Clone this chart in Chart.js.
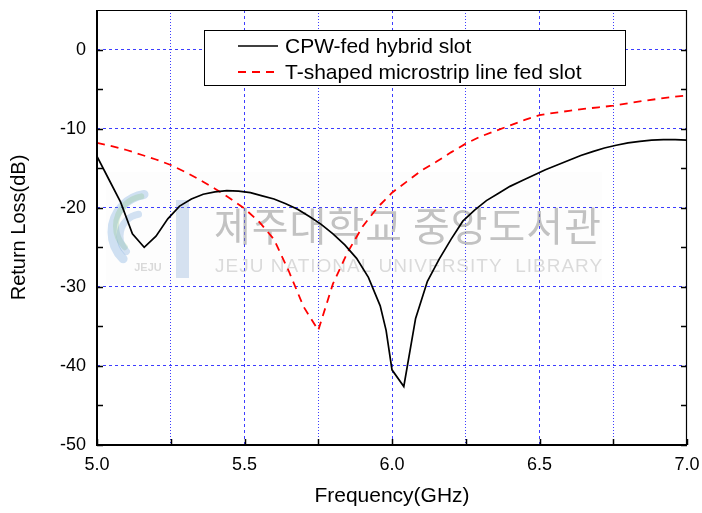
<!DOCTYPE html>
<html>
<head>
<meta charset="utf-8">
<script src="https://cdn.jsdelivr.net/npm/chart.js@4.4.1/dist/chart.umd.min.js"></script>
<style>
  html, body { margin: 0; padding: 0; background: #fff; }
  #wrap { width: 702px; height: 513px; }
</style>
</head>
<body>
<div id="wrap"><canvas id="rl" width="702" height="513"></canvas></div>
<script>
// CPW-fed hybrid slot, return loss (dB) vs frequency (GHz)
const cpwFreq = [5.00, 5.04, 5.08, 5.12, 5.16, 5.20, 5.24, 5.28, 5.32, 5.36, 5.40, 5.44, 5.48, 5.52, 5.56, 5.60,
  5.64, 5.68, 5.72, 5.76, 5.80, 5.84, 5.88, 5.92, 5.96, 5.98, 6.00, 6.04, 6.08, 6.12, 6.16, 6.20, 6.24, 6.28,
  6.32, 6.36, 6.40, 6.44, 6.48, 6.52, 6.56, 6.60, 6.64, 6.68, 6.72, 6.76, 6.80, 6.84, 6.88, 6.92, 6.96, 7.00];
const cpwLoss = [-13.5, -16.4, -19.3, -23.3, -25.0, -23.6, -21.4, -19.8, -18.9, -18.3, -18.0, -17.85, -17.9, -18.1, -18.5, -18.9,
  -19.5, -20.2, -21.1, -22.1, -23.3, -24.7, -26.4, -28.8, -32.4, -35.5, -40.5, -42.6, -34.0, -29.3, -26.5, -24.0, -21.7, -20.3,
  -19.1, -18.2, -17.3, -16.6, -15.9, -15.2, -14.6, -14.0, -13.4, -12.9, -12.45, -12.1, -11.8, -11.6, -11.45, -11.4, -11.4, -11.45];

// T-shaped microstrip line fed slot
const tslotFreq = [5.00, 5.05, 5.10, 5.15, 5.20, 5.25, 5.30, 5.35, 5.40, 5.45, 5.50, 5.55, 5.60, 5.65, 5.70, 5.75,
  5.80, 5.85, 5.90, 5.95, 6.00, 6.05, 6.10, 6.15, 6.20, 6.25, 6.30, 6.35, 6.40, 6.45, 6.50, 6.55, 6.60, 6.65,
  6.70, 6.75, 6.80, 6.85, 6.90, 6.95, 7.00];
const tslotLoss = [-11.8, -12.2, -12.7, -13.3, -13.9, -14.6, -15.5, -16.5, -17.6, -18.8, -20.1, -21.8, -24.0, -28.0, -32.5, -35.5,
  -29.6, -25.6, -22.4, -20.0, -18.1, -16.7, -15.3, -14.2, -13.0, -11.9, -11.0, -10.3, -9.6, -8.9, -8.3, -8.0, -7.75, -7.5,
  -7.3, -7.1, -6.8, -6.5, -6.25, -6.0, -5.8];

const seriesNames = ['CPW-fed hybrid slot', 'T-shaped microstrip line fed slot'];
const xLabels = [5.0, 5.5, 6.0, 6.5, 7.0];
const yLabels = [0, -10, -20, -30, -40, -50];

const FONT = '"Liberation Sans", Arial, Helvetica, sans-serif';
const GRID_BLUE = 'rgba(40, 40, 255, 0.9)';

const toPoints = (xs, ys) => xs.map((x, i) => ({ x: x, y: ys[i] }));
const isLabelX = v => xLabels.some(l => Math.abs(l - v) < 1e-6);
const isLabelY = v => yLabels.some(l => Math.abs(l - v) < 1e-6);

// faint library stamp behind the curves
const stampPlugin = {
  id: 'stamp',
  beforeDatasetsDraw(chart) {
    const ctx = chart.ctx;
    ctx.save();
    ctx.fillStyle = 'rgba(0,0,0,0.008)';
    ctx.fillRect(106, 172, 496, 112);

    // logo swirls
    ctx.lineCap = 'round';
    const arcs = [
      ['rgba(120,170,220,0.35)', 150, 232, 38, 9],
      ['rgba(150,200,150,0.35)', 146, 226, 30, 6],
      ['rgba(110,160,215,0.30)', 142, 236, 22, 7]
    ];
    arcs.forEach(([c, cx, cy, r, w]) => {
      ctx.strokeStyle = c;
      ctx.lineWidth = w;
      ctx.beginPath();
      ctx.arc(cx, cy, r, Math.PI * 0.75, Math.PI * 1.45);
      ctx.stroke();
    });
    ctx.fillStyle = 'rgba(120,160,210,0.3)';
    ctx.fillRect(176, 200, 13, 78);
    ctx.fillStyle = 'rgba(150,150,150,0.35)';
    ctx.font = 'bold 11px ' + FONT;
    ctx.textAlign = 'center';
    ctx.textBaseline = 'middle';
    ctx.fillText('JEJU', 148, 268);

    ctx.fillStyle = 'rgba(135,135,135,0.5)';
    ctx.font = '40px "Noto Sans CJK KR", sans-serif';
    ctx.textAlign = 'left';
    ctx.textBaseline = 'middle';
    if (ctx.letterSpacing !== undefined) ctx.letterSpacing = '1px';
    ctx.fillText('제주대학교 중앙도서관', 214, 226);
    ctx.fillStyle = 'rgba(160,160,160,0.38)';
    ctx.font = '19px ' + FONT;
    if (ctx.letterSpacing !== undefined) ctx.letterSpacing = '1px';
    ctx.fillText('JEJU NATIONAL UNIVERSITY  LIBRARY', 215, 267);
    ctx.restore();
  }
};

// axis box with inward ticks, plus the legend
const framePlugin = {
  id: 'frame',
  afterDatasetsDraw(chart) {
    const ctx = chart.ctx;
    const { left, right, top, bottom } = chart.chartArea;
    const xs = chart.scales.x, ys = chart.scales.y;
    ctx.save();
    ctx.strokeStyle = '#000';

    ctx.lineWidth = 1.5;
    xs.ticks.forEach(t => {
      const px = Math.round(xs.getPixelForValue(t.value)) + 0.5;
      ctx.beginPath(); ctx.moveTo(px, bottom); ctx.lineTo(px, bottom - 6); ctx.stroke();
    });
    ys.ticks.forEach(t => {
      const py = Math.round(ys.getPixelForValue(t.value)) + 0.5;
      if (py < top + 2) return;
      ctx.beginPath(); ctx.moveTo(left, py); ctx.lineTo(left + 6, py); ctx.stroke();
      ctx.beginPath(); ctx.moveTo(right, py); ctx.lineTo(right - 6, py); ctx.stroke();
    });

    ctx.lineWidth = 1.2;
    ctx.beginPath();
    ctx.moveTo(left, top + 0.5); ctx.lineTo(right, top + 0.5);
    ctx.moveTo(right - 0.5, top); ctx.lineTo(right - 0.5, bottom);
    ctx.stroke();
    ctx.lineWidth = 2;
    ctx.beginPath();
    ctx.moveTo(left, top); ctx.lineTo(left, bottom); ctx.lineTo(right, bottom);
    ctx.stroke();

    // legend
    const lx = 204.5, ly = 30.5, lw = 421, lh = 55;
    ctx.fillStyle = '#fff';
    ctx.fillRect(lx, ly, lw, lh);
    ctx.lineWidth = 1;
    ctx.strokeRect(lx, ly, lw, lh);
    ctx.font = '21px ' + FONT;
    ctx.textAlign = 'left';
    ctx.textBaseline = 'middle';
    chart.data.datasets.forEach((ds, i) => {
      const ry = 46 + i * 26;
      ctx.strokeStyle = ds.borderColor;
      ctx.lineWidth = ds.borderWidth;
      ctx.setLineDash(ds.borderDash || []);
      ctx.beginPath(); ctx.moveTo(238, ry); ctx.lineTo(278, ry); ctx.stroke();
      ctx.setLineDash([]);
      ctx.fillStyle = '#000';
      ctx.fillText(ds.label, 285, ry + 1);
    });
    ctx.restore();
  }
};

new Chart(document.getElementById('rl').getContext('2d'), {
  type: 'line',
  data: {
    datasets: [
      {
        label: seriesNames[0],
        data: toPoints(cpwFreq, cpwLoss),
        borderColor: '#000',
        borderWidth: 1.7,
        pointRadius: 0,
        tension: 0,
        fill: false
      },
      {
        label: seriesNames[1],
        data: toPoints(tslotFreq, tslotLoss),
        borderColor: '#ff0000',
        borderWidth: 1.8,
        borderDash: [8, 6],
        pointRadius: 0,
        tension: 0,
        fill: false
      }
    ]
  },
  options: {
    responsive: false,
    animation: false,
    devicePixelRatio: 1,
    layout: { padding: { left: 0, right: 15, top: 10, bottom: 0 } },
    plugins: { legend: { display: false }, tooltip: { enabled: false } },
    scales: {
      x: {
        type: 'linear',
        min: 5, max: 7,
        afterFit: s => { s.height = 68; s.paddingLeft = 0; s.paddingRight = 0; },
        ticks: {
          stepSize: 0.25,
          autoSkip: false,
          maxRotation: 0,
          padding: 9,
          color: '#000',
          font: { family: FONT, size: 18 },
          callback: v => isLabelX(v) ? v.toFixed(1) : ''
        },
        grid: {
          drawTicks: false,
          lineWidth: 1,
          color: ctx => (ctx.tick && ctx.tick.value > 5 && ctx.tick.value < 7) ? GRID_BLUE : 'rgba(0,0,0,0)'
        },
        border: {
          display: false,
          dash: ctx => (ctx.tick && isLabelX(ctx.tick.value)) ? [3, 3] : [1, 2]
        },
        title: {
          display: true,
          text: 'Frequency(GHz)',
          color: '#000',
          font: { family: FONT, size: 21 },
          padding: { top: 0, bottom: 4 }
        }
      },
      y: {
        min: -50, max: 5,
        afterFit: s => { s.width = 97; s.paddingTop = 0; s.paddingBottom = 0; },
        ticks: {
          stepSize: 5,
          autoSkip: false,
          padding: 11,
          color: '#000',
          font: { family: FONT, size: 18 },
          callback: v => isLabelY(v) ? String(v) : ''
        },
        grid: {
          drawTicks: false,
          lineWidth: 1,
          color: ctx => (ctx.tick && isLabelY(ctx.tick.value) && ctx.tick.value > -50) ? GRID_BLUE : 'rgba(0,0,0,0)'
        },
        border: { display: false, dash: [3, 3] },
        title: {
          display: true,
          text: 'Return Loss(dB)',
          color: '#000',
          font: { family: FONT, size: 20 },
          padding: { top: 7, bottom: 0 }
        }
      }
    }
  },
  plugins: [stampPlugin, framePlugin]
});
</script>
</body>
</html>
